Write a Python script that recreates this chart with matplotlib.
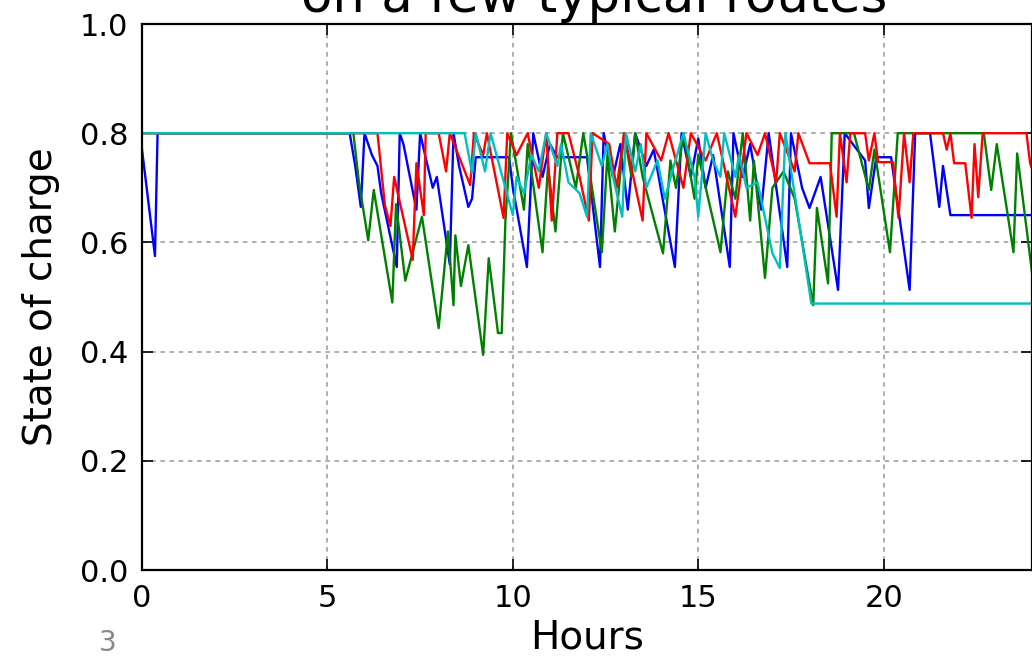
import matplotlib
matplotlib.use("Agg")
import matplotlib.pyplot as plt

title_text = "on a few typical routes"
x_label = "Hours"
y_label = "State of charge"
page_number = "3"
x_ticks = [0, 5, 10, 15, 20]
y_ticks = [0.0, 0.2, 0.4, 0.6, 0.8, 1.0]

blue_h = [0.0, 0.35, 0.42, 5.6, 5.75, 5.9, 6.0, 6.2, 6.35, 6.45, 6.87, 6.95, 7.05, 7.4, 7.5,
          7.6, 7.84, 7.95, 8.3, 8.4, 8.55, 8.8, 8.9, 9.0, 9.9, 10.0, 10.38, 10.55, 10.8, 11.0,
          11.2, 12.0, 12.35, 12.45, 12.7, 12.9, 13.1, 13.3, 13.6, 13.8, 14.37, 14.55, 14.8,
          15.0, 15.2, 15.4, 15.85, 15.95, 16.2, 16.4, 16.7, 16.9, 17.4, 17.5, 17.8, 18.0,
          18.3, 18.77, 18.95, 19.5, 19.6, 19.8, 20.2, 20.7, 20.85, 21.25, 21.5, 21.6, 21.8, 24.0]
blue_v = [0.77, 0.575, 0.80, 0.80, 0.74, 0.665, 0.80, 0.76, 0.74, 0.69, 0.555, 0.80, 0.78, 0.66, 0.80,
          0.77, 0.70, 0.72, 0.56, 0.80, 0.74, 0.665, 0.68, 0.756, 0.756, 0.70, 0.555, 0.80, 0.72, 0.78,
          0.756, 0.756, 0.555, 0.80, 0.72, 0.78, 0.66, 0.80, 0.74, 0.77, 0.555, 0.80, 0.72,
          0.79, 0.70, 0.76, 0.555, 0.80, 0.72, 0.78, 0.66, 0.80, 0.555, 0.80, 0.70, 0.663,
          0.72, 0.513, 0.80, 0.75, 0.663, 0.756, 0.756, 0.513, 0.80, 0.80, 0.665, 0.74, 0.65, 0.65]

green_h = [0.0, 5.7, 5.85, 6.1, 6.25, 6.75, 6.85, 7.1, 7.55, 8.0, 8.25, 8.4, 8.45, 8.6, 8.8,
           9.2, 9.35, 9.6, 9.7, 9.8, 9.95, 10.1, 10.3, 10.4, 10.8, 10.95, 11.15, 11.35, 11.7,
           11.9, 12.0, 12.4, 12.55, 12.75, 13.0, 13.2, 13.3, 13.5, 14.05, 14.25, 14.4, 14.6,
           14.9, 15.0, 15.6, 15.8, 16.0, 16.2, 16.4, 16.5, 16.8, 17.0, 17.3, 17.6, 18.1, 18.2,
           18.5, 18.6, 19.2, 19.6, 19.75, 20.17, 20.38, 22.7, 22.9, 23.05, 23.5, 23.6, 24.0]
green_v = [0.80, 0.80, 0.71, 0.604, 0.696, 0.49, 0.67, 0.53, 0.647, 0.443, 0.62, 0.485, 0.613, 0.52, 0.595,
           0.394, 0.571, 0.434, 0.434, 0.64, 0.80, 0.74, 0.66, 0.78, 0.582, 0.74, 0.62, 0.80, 0.70,
           0.80, 0.76, 0.582, 0.76, 0.62, 0.80, 0.72, 0.80, 0.72, 0.58, 0.75, 0.70, 0.80,
           0.68, 0.76, 0.582, 0.73, 0.68, 0.80, 0.64, 0.75, 0.535, 0.70, 0.73, 0.68, 0.485, 0.663,
           0.525, 0.80, 0.80, 0.696, 0.77, 0.582, 0.80, 0.80, 0.696, 0.78, 0.582, 0.763, 0.545]

red_h = [0.0, 6.35, 6.55, 6.7, 6.8, 7.3, 7.4, 7.6, 7.65, 8.0, 8.2, 8.3, 8.85, 8.95, 9.2, 9.3,
         9.75, 9.85, 10.1, 10.4, 10.7, 10.9, 11.05, 11.2, 11.5, 11.8, 12.05, 12.15, 12.6, 12.8,
         13.0, 13.5, 13.6, 14.0, 14.2, 14.6, 14.8, 15.2, 15.5, 16.0, 16.3, 16.6, 16.8, 17.1,
         17.2, 17.6, 17.7, 18.0, 18.25, 18.55, 18.73, 18.82, 19.0, 19.1, 19.5, 19.6, 19.75,
         19.85, 20.25, 20.4, 20.55, 20.7, 20.8, 21.6, 21.7, 21.8, 21.9, 22.2, 22.37, 22.45,
         22.55, 22.67, 23.85, 23.95, 24.0]
red_v = [0.80, 0.80, 0.668, 0.63, 0.72, 0.568, 0.745, 0.65, 0.80, 0.80, 0.73, 0.80, 0.705, 0.80, 0.76, 0.80,
         0.645, 0.80, 0.76, 0.80, 0.70, 0.80, 0.64, 0.80, 0.80, 0.72, 0.64, 0.80, 0.78, 0.70,
         0.80, 0.64, 0.80, 0.75, 0.80, 0.70, 0.80, 0.75, 0.80, 0.647, 0.80, 0.76, 0.80, 0.71,
         0.80, 0.73, 0.80, 0.745, 0.745, 0.745, 0.647, 0.80, 0.71, 0.80, 0.80, 0.75, 0.80,
         0.747, 0.747, 0.645, 0.80, 0.71, 0.80, 0.80, 0.77, 0.80, 0.745, 0.745, 0.645, 0.78,
         0.683, 0.80, 0.80, 0.745, 0.735]

cyan_h = [0.0, 8.7, 8.9, 9.0, 9.25, 9.4, 9.6, 9.8, 10.0, 10.1, 10.3, 10.5, 10.7, 10.9, 11.2,
          11.3, 11.5, 11.8, 12.0, 12.1, 12.4, 12.55, 12.7, 12.95, 13.05, 13.3, 13.45, 13.6,
          13.9, 14.1, 14.3, 14.6, 14.9, 15.0, 15.2, 15.4, 15.6, 15.7, 16.0, 16.1, 16.3, 16.6,
          17.0, 17.2, 17.35, 18.05, 24.0]
cyan_v = [0.80, 0.80, 0.727, 0.80, 0.73, 0.80, 0.75, 0.70, 0.65, 0.72, 0.69, 0.76, 0.73, 0.80, 0.74,
          0.78, 0.71, 0.69, 0.647, 0.80, 0.74, 0.78, 0.72, 0.647, 0.80, 0.73, 0.78, 0.70,
          0.75, 0.68, 0.73, 0.80, 0.72, 0.647, 0.80, 0.75, 0.72, 0.80, 0.72, 0.76, 0.70, 0.71,
          0.58, 0.553, 0.80, 0.488, 0.488]

fig = plt.figure(figsize=(10.32, 6.57), dpi=100)
fig.patch.set_facecolor("white")
ax = fig.add_axes([142 / 1032, 87 / 657, 890 / 1032, 546 / 657])

lw = 1.7
ax.plot(blue_h, blue_v, color="b", lw=lw)
ax.plot(green_h, green_v, color="g", lw=lw)
ax.plot(red_h, red_v, color="r", lw=lw)
ax.plot(cyan_h, cyan_v, color="c", lw=lw)

ax.set_xlim(0, 24)
ax.set_ylim(0, 1.0)
ax.set_xticks(x_ticks)
ax.set_yticks(y_ticks)
ax.set_yticklabels([f"{v:.1f}" for v in y_ticks])
ax.tick_params(direction="in", length=8, width=1.2, labelsize=22, top=True, right=True, pad=10)
ax.grid(True, color="0.6", linestyle=(0, (3, 3)), linewidth=1.1)
for sp in ax.spines.values():
    sp.set_linewidth(1.6)

ax.set_xlabel(x_label, fontsize=28, labelpad=4)
ax.set_ylabel(y_label, fontsize=28, labelpad=14)

fig.text(594 / 1032, 1 - 12 / 657, title_text, fontsize=37, ha="center", va="baseline")
fig.text(108 / 1032, 1 - 643 / 657, page_number, fontsize=20, color="#888888", ha="center", va="center")

fig.savefig("out.png", dpi=100, facecolor="white")
